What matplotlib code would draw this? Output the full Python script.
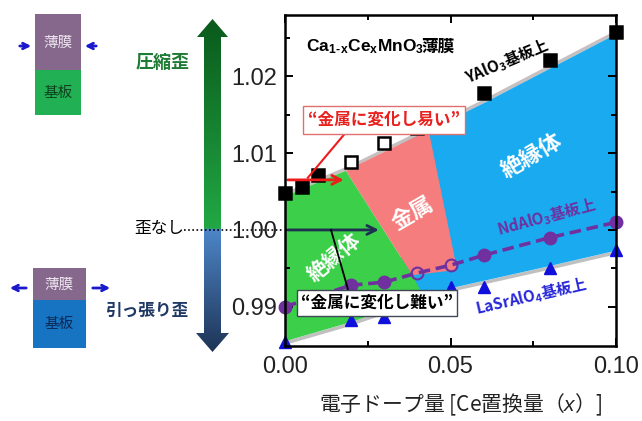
import numpy as np
import matplotlib
matplotlib.use('Agg')
import matplotlib.pyplot as plt
from matplotlib.patches import Polygon, Rectangle
from matplotlib.colors import to_rgb

plt.rcParams['font.family'] = ['Liberation Sans', 'Noto Sans CJK JP', 'DejaVu Sans']
plt.rcParams['mathtext.fontset'] = 'custom'
plt.rcParams['mathtext.it'] = 'Liberation Sans:italic'
plt.rcParams['mathtext.rm'] = 'Liberation Sans'

JP = ['Noto Sans CJK JP', 'DejaVu Sans']

# ---------------- data ----------------
# YAlO3 substrate (black squares)
x_yalo = [0.00, 0.005, 0.01, 0.02, 0.03, 0.04, 0.06, 0.08, 0.10]
y_yalo = [1.0048, 1.0056, 1.0072, 1.0089, 1.0113, 1.0133, 1.0179, 1.0222, 1.0258]
open_yalo = [False, False, False, True, True, True, False, False, False]

# NdAlO3 substrate (purple circles)
x_ndalo = [0.00, 0.02, 0.03, 0.04, 0.05, 0.06, 0.08, 0.10]
y_ndalo = [0.9900, 0.9928, 0.9932, 0.9944, 0.9954, 0.9967, 0.9990, 1.0010]
open_ndalo = [False, False, False, True, True, False, False, False]

# LaSrAlO4 substrate (blue triangles)
x_lsao = [0.00, 0.02, 0.03, 0.05, 0.06, 0.08, 0.10]
y_lsao = [0.9854, 0.9883, 0.9887, 0.9926, 0.9926, 0.9950, 0.9974]

# phase-region boundaries
ub_x = [0.00, 0.02, 0.06, 0.10]
ub_y = [1.0044, 1.0080, 1.0165, 1.0255]
lb_x = [0.00, 0.02, 0.05, 0.08, 0.10]
lb_y = [0.9855, 0.9880, 0.9924, 0.9953, 0.9973]
metal_x = [0.0184, 0.0434, 0.052, 0.0385]      # pink region corners (x)
metal_bot_y = [0.9948, 0.9941]                  # lower corners y (right, left)
green_right_x = 0.042

x_ticks = [0.00, 0.05, 0.10]
x_ticklabels = ['0.00', '0.05', '0.10']
y_ticks = [0.99, 1.00, 1.01, 1.02]
y_ticklabels = ['0.99', '1.00', '1.01', '1.02']

W, H = 642, 421
fig = plt.figure(figsize=(W / 100, H / 100), dpi=100)

# ---------- overlay (pixel coordinates) for left schematic ----------
ov = fig.add_axes([0, 0, 1, 1])
ov.axis('off')

# big gradient arrow
arrow_pts = [(204, 37), (197, 37), (212.5, 19), (228, 37), (221, 37),
             (221, 333), (229, 333), (212.5, 352), (196, 333), (204, 333)]
poly = Polygon(arrow_pts, closed=True, facecolor='none', edgecolor='none')
ov.add_patch(poly)
ys = np.linspace(19, 352, 400)
grad = np.zeros((len(ys), 1, 3))
g0, g1 = np.array(to_rgb('#0a5a1c')), np.array(to_rgb('#22a844'))
b0, b1 = np.array(to_rgb('#4d86c8')), np.array(to_rgb('#1e3456'))
for i, yy in enumerate(ys):
    if yy < 229:
        t = (yy - 19) / (229 - 19)
        grad[i, 0] = g0 * (1 - t) + g1 * t
    else:
        t = (yy - 229) / (352 - 229)
        grad[i, 0] = b0 * (1 - t) + b1 * t
im = ov.imshow(grad, extent=[195, 231, 352, 19], aspect='auto', interpolation='bilinear')
im.set_clip_path(poly)

# top schematic (compressive)
ov.add_patch(Rectangle((35, 14), 46, 56, facecolor='#86688c', edgecolor='none'))
ov.add_patch(Rectangle((35, 70), 46, 45, facecolor='#22b055', edgecolor='none'))
ov.text(58, 43, '薄膜', family=JP, fontsize=10.5, color='#ece4ee', ha='center', va='center')
ov.text(58, 93, '基板', family=JP, fontsize=10.5, color='#10401e', ha='center', va='center')
ov.annotate('', xy=(34, 46), xytext=(17, 46),
            arrowprops=dict(arrowstyle='->', color='#1a1acc', lw=2))
ov.annotate('', xy=(82, 46), xytext=(99, 46),
            arrowprops=dict(arrowstyle='->', color='#1a1acc', lw=2))

# bottom schematic (tensile)
ov.add_patch(Rectangle((33, 268), 53, 32, facecolor='#86688c', edgecolor='none'))
ov.add_patch(Rectangle((33, 300), 53, 48, facecolor='#1674c2', edgecolor='none'))
ov.text(59, 285, '薄膜', family=JP, fontsize=10.5, color='#ece4ee', ha='center', va='center')
ov.text(59, 324, '基板', family=JP, fontsize=10.5, color='#0c2a55', ha='center', va='center')
ov.annotate('', xy=(7, 288), xytext=(29, 288),
            arrowprops=dict(arrowstyle='->', color='#1a1acc', lw=2))
ov.annotate('', xy=(113, 288), xytext=(90, 288),
            arrowprops=dict(arrowstyle='->', color='#1a1acc', lw=2))

ov.text(163, 63, '圧縮歪', family=JP, fontsize=13, fontweight='bold', color='#1e7b34',
        ha='center', va='center')
ov.text(159, 229, '歪なし', family=JP, fontsize=12, color='black', ha='center', va='center')
ov.text(147, 311, '引っ張り歪', family=JP, fontsize=12, fontweight='bold', color='#1f3864',
        ha='center', va='center')
ov.plot([184, 284], [230, 230], ls=(0, (1, 1.5)), color='black', lw=1.2)

ov.set_xlim(0, W)
ov.set_ylim(H, 0)

# ---------------- main axes ----------------
ax = fig.add_axes([285 / W, 1 - 346 / H, 331 / W, 331 / H])
ax.set_xlim(0, 0.1)
ax.set_ylim(0.98488, 1.0280)


def ub(x):
    return np.interp(x, ub_x, ub_y)


def lb(x):
    return np.interp(x, lb_x, lb_y)


# blue insulator band
xb = np.linspace(0.035, 0.10, 50)
blue_pts = list(zip(xb, ub(xb))) + list(zip(xb[::-1], lb(xb[::-1])))
ax.add_patch(Polygon(blue_pts, closed=True, facecolor='#19aaf0', edgecolor='none', zorder=1))

# green insulator region
green_pts = [(0, ub(0)), (metal_x[0], ub(metal_x[0])), (metal_x[3], metal_bot_y[1]),
             (green_right_x, lb(green_right_x)), (0.02, lb(0.02)), (0, lb(0))]
ax.add_patch(Polygon(green_pts, closed=True, facecolor='#3ccf4a', edgecolor='none', zorder=1))

# pink metal region
pink_pts = [(metal_x[0], ub(metal_x[0])), (metal_x[1], ub(metal_x[1])),
            (metal_x[2], metal_bot_y[0]), (metal_x[3], metal_bot_y[1])]
ax.add_patch(Polygon(pink_pts, closed=True, facecolor='#f57d7d', edgecolor='none', zorder=1.1))

# grey shadow edges
xs = np.linspace(0, 0.1, 50)
ax.plot(xs, ub(xs) + 0.00025, color='#c8c0c0', lw=2.5, zorder=0.9)
ax.plot(xs, lb(xs) - 0.00025, color='#c0c0c0', lw=2.5, zorder=0.9)

# NdAlO3 dashed line + circles
ax.plot(x_ndalo, y_ndalo, ls=(0, (3.2, 1.6)), color='#7030a0', lw=2.6, zorder=3, clip_on=False)
for xv, yv, op in zip(x_ndalo, y_ndalo, open_ndalo):
    ax.plot(xv, yv, 'o', ms=8.5, mec='#7030a0', mew=1.5,
            mfc='none' if op else '#7030a0', zorder=4, clip_on=False)

# YAlO3 squares
for xv, yv, op in zip(x_yalo, y_yalo, open_yalo):
    ax.plot(xv, yv, 's', ms=8.5, mec='black', mew=1.8,
            mfc='white' if op else 'black', zorder=4, clip_on=False)

# LaSrAlO4 triangles
ax.plot(x_lsao, y_lsao, '^', ms=9, color='#1010dd', ls='none', zorder=4, clip_on=False)

# region labels
ax.text(0.0747, 1.0095, '絶縁体', family=JP, fontsize=16, fontweight='bold', color='white',
        rotation=30, ha='center', va='center', zorder=5)
ax.text(0.0386, 1.0022, '金属', family=JP, fontsize=16, fontweight='bold', color='white',
        rotation=30, ha='center', va='center', zorder=5)
ax.text(0.0148, 0.9965, '絶縁体', family=JP, fontsize=15, fontweight='bold', color='white',
        rotation=40, ha='center', va='center', zorder=5)

formula = ax.text(0.0063, 1.0239,
                  'Ca$_{\\mathregular{1}}$$_{\\mathregular{\u2010}}$'
                  + r'$_{\mathregular{x}}$Ce$_{\mathregular{x}}$MnO$_{\mathregular{3}}$',
                  family='Liberation Sans', fontsize=12.5, fontweight='bold', color='black',
                  ha='left', va='center', zorder=5)
ax.annotate('薄膜', xy=(1.0, 0.5), xycoords=formula, xytext=(-1.5, 0), textcoords='offset points',
            family=JP, fontsize=12, fontweight='bold', color='black',
            ha='left', va='center', zorder=5)
ax.text(0.0672, 1.0219, r'YAlO$_{\mathregular{3}}$基板上', family=JP, fontsize=11,
        fontweight='bold', color='black', rotation=23, ha='center', va='center', zorder=5)
ax.text(0.0789, 1.0016, r'NdAlO$_{\mathregular{3}}$基板上', family=JP, fontsize=11,
        fontweight='bold', color='#7030a0', rotation=15, ha='center', va='center', zorder=5)
ax.text(0.0744, 0.99127, r'LaSrAlO$_{\mathregular{4}}$基板上', family=JP, fontsize=11,
        fontweight='bold', color='#2626d9', rotation=13, ha='center', va='center', zorder=5)

# arrows inside axes
ax.annotate('', xy=(0.0186, 1.00652), xytext=(0.0, 1.00652),
            arrowprops=dict(arrowstyle='->', color='#ee1c1c', lw=2, mutation_scale=16), zorder=6)
ax.plot([0.0069, 0.0178], [1.0068, 1.0124], color='#ee1c1c', lw=1.5, zorder=6)
ax.annotate('', xy=(0.0292, 1.0000), xytext=(0.0, 1.0000),
            arrowprops=dict(arrowstyle='->', color='#1f3050', lw=2, mutation_scale=16), zorder=6)
ax.plot([0.0139, 0.0190], [1.0000, 0.9923], color='black', lw=1.3, zorder=6)

# callout boxes
ax.text(0.0298, 1.01434, '“金属に変化し易い”', family=JP, fontsize=12, fontweight='bold',
        color='#e8201e', ha='center', va='center', zorder=7,
        bbox=dict(boxstyle='square,pad=0.3', facecolor='white', edgecolor='#e07070', lw=1))
ax.text(0.0277, 0.99048, '“金属に変化し難い”', family=JP, fontsize=12, fontweight='bold',
        color='black', ha='center', va='center', zorder=7,
        bbox=dict(boxstyle='square,pad=0.25', facecolor='white', edgecolor='#404858', lw=1))

# ticks
ax.set_xticks(x_ticks)
ax.set_xticklabels(x_ticklabels)
ax.set_yticks(y_ticks)
ax.set_yticklabels(y_ticklabels)
ax.set_xticks([0.025, 0.075], minor=True)
ax.set_yticks([0.995, 1.005, 1.015, 1.025], minor=True)
ax.tick_params(which='both', direction='in', top=True, right=True, width=1.4)
ax.tick_params(which='major', length=6, labelsize=17, pad=6, colors='black')
ax.tick_params(which='minor', length=3.5)
ax.tick_params(axis='x', which='major', pad=7)
for lab in ax.get_xticklabels() + ax.get_yticklabels():
    lab.set_color('#222222')
for sp in ax.spines.values():
    sp.set_linewidth(1.8)
    sp.set_zorder(8)

fig.text(461 / W, 1 - 405 / H, r'電子ドープ量 [Ce置換量（$\mathit{x}$）]', family=JP,
         fontsize=15, color='#222222', ha='center', va='center')

fig.savefig('out.png', dpi=100)
